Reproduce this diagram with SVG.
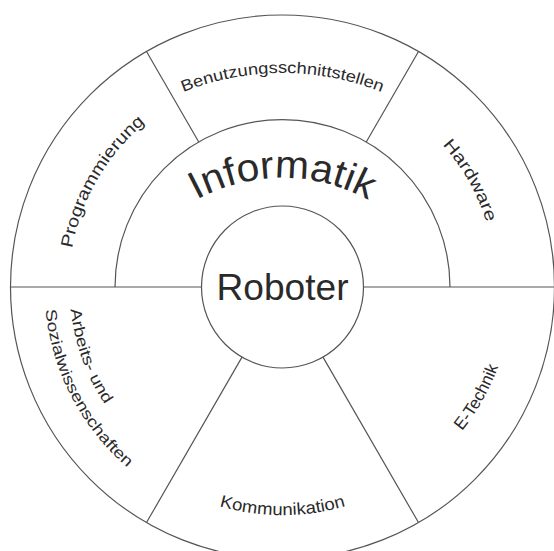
<svg xmlns="http://www.w3.org/2000/svg" width="554" height="551" viewBox="0 0 554 551">
  <style>
    .ln { fill: none; stroke: #555; stroke-width: 1.2; }
    .lbl { font-family: "Liberation Sans", "DejaVu Sans", sans-serif; fill: #2a2a2a; }
    .small { font-size: 17px; }
    .pair { font-size: 15.5px; }
  </style>
  <defs>
    <!-- baseline arcs for the curved labels; ring centre is (282.5, 287) -->
    <path id="arcInformatik" d="M155.9,230.4 A179,179 0 0 1 409.1,230.4"/>
    <path id="arcBenutzung" d="M149,108.8 A267,267 0 0 1 416,108.8"/>
    <path id="arcProgramm" d="M81.1,359.3 A214,214 0 0 1 246.3,76.1"/>
    <path id="arcHardware" d="M321.1,76.5 A214,214 0 0 1 483.1,361.6"/>
    <path id="arcKommunikation" d="M107.8,433.6 A228,228 0 0 0 457.2,433.6"/>
    <path id="arcETechnik" d="M324.4,513.2 A230,230 0 0 0 497.9,206.5"/>
    <path id="arcArbeits" d="M70.7,309.3 A213,213 0 0 0 245.5,496.8"/>
    <path id="arcSozial" d="M45.6,309.8 A238,238 0 0 0 241.2,521.4"/>
  </defs>
  <rect width="554" height="551" fill="#ffffff"/>

  <g id="connectors">
    <!-- outer ring -->
    <circle class="ln" cx="282.5" cy="287" r="272"/>
    <!-- informatik half ring -->
    <path class="ln" d="M115,287 A167.5,167.5 0 0 1 450,287"/>
    <!-- horizontal divider -->
    <path class="ln" d="M11,287 H201.5 M363.5,287 H554"/>
    <!-- upper spokes -->
    <path class="ln" d="M198.75,141.94 L146.5,51.44 M366.25,141.94 L418.5,51.44"/>
    <!-- lower spokes -->
    <path class="ln" d="M242,357.15 L146.5,522.56 M323,357.15 L418.5,522.56"/>
  </g>

  <g id="roboter">
    <circle class="ln" cx="282.5" cy="287" r="81"/>
    <text class="lbl" x="282.5" y="300" font-size="36" text-anchor="middle" textLength="132" lengthAdjust="spacingAndGlyphs">Roboter</text>
  </g>

  <g id="informatik">
    <text class="lbl" font-size="39"><textPath href="#arcInformatik" startOffset="50%" text-anchor="middle" textLength="179" lengthAdjust="spacingAndGlyphs">Informatik</textPath></text>
  </g>

  <g id="benutzungsschnittstellen">
    <text class="lbl" font-size="16"><textPath href="#arcBenutzung" startOffset="50%" text-anchor="middle" textLength="203" lengthAdjust="spacingAndGlyphs">Benutzungsschnittstellen</textPath></text>
  </g>

  <g id="programmierung">
    <text class="lbl small"><textPath href="#arcProgramm" startOffset="50%" text-anchor="middle" textLength="148" lengthAdjust="spacingAndGlyphs">Programmierung</textPath></text>
  </g>

  <g id="hardware">
    <text class="lbl small"><textPath href="#arcHardware" startOffset="50%" text-anchor="middle" textLength="90" lengthAdjust="spacingAndGlyphs">Hardware</textPath></text>
  </g>

  <g id="kommunikation">
    <text class="lbl small"><textPath href="#arcKommunikation" startOffset="50%" text-anchor="middle" textLength="128" lengthAdjust="spacingAndGlyphs">Kommunikation</textPath></text>
  </g>

  <g id="etechnik">
    <text class="lbl small"><textPath href="#arcETechnik" startOffset="50%" text-anchor="middle" textLength="74" lengthAdjust="spacingAndGlyphs">E-Technik</textPath></text>
  </g>

  <g id="arbeits-sozialwissenschaften">
    <text class="lbl pair"><textPath href="#arcArbeits" textLength="102" lengthAdjust="spacingAndGlyphs">Arbeits- und</textPath></text>
    <text class="lbl pair"><textPath href="#arcSozial" textLength="182" lengthAdjust="spacingAndGlyphs">Sozialwissenschaften</textPath></text>
  </g>
</svg>
